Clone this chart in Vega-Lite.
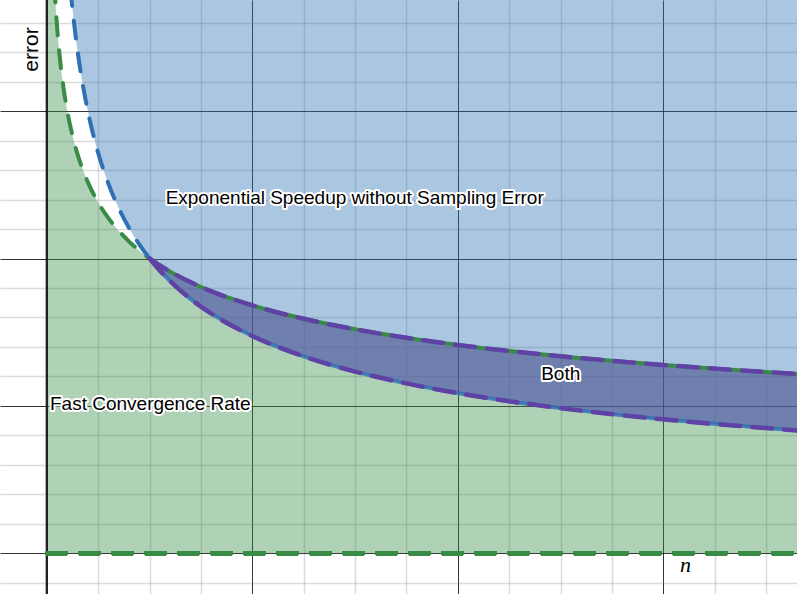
{
  "$schema": "https://vega.github.io/schema/vega-lite/v6.json",
  "width": 797,
  "height": 594,
  "autosize": {"type": "none"},
  "padding": 0,
  "background": "white",
  "config": {"view": {"stroke": null}},
  "datasets": {
    "curves": [
      {"x": 0.001, "green": 9.457, "blue": null},
      {"x": 0.005, "green": 6.325, "blue": null},
      {"x": 0.01, "green": 5.318, "blue": null},
      {"x": 0.02, "green": 4.472, "blue": null},
      {"x": 0.03, "green": 4.041, "blue": null},
      {"x": 0.04, "green": 3.761, "blue": null},
      {"x": 0.05, "green": 3.557, "blue": null},
      {"x": 0.06, "green": 3.398, "blue": null},
      {"x": 0.08, "green": 3.162, "blue": null},
      {"x": 0.1, "green": 2.991, "blue": 4.06},
      {"x": 0.11, "green": 2.92, "blue": 3.893},
      {"x": 0.12, "green": 2.858, "blue": 3.747},
      {"x": 0.13, "green": 2.801, "blue": 3.618},
      {"x": 0.15, "green": 2.702, "blue": 3.397},
      {"x": 0.175, "green": 2.6, "blue": 3.174},
      {"x": 0.2, "green": 2.515, "blue": 2.993},
      {"x": 0.25, "green": 2.378, "blue": 2.713},
      {"x": 0.3, "green": 2.272, "blue": 2.504},
      {"x": 0.35, "green": 2.187, "blue": 2.34},
      {"x": 0.4, "green": 2.115, "blue": 2.206},
      {"x": 0.45, "green": 2.053, "blue": 2.095},
      {"x": 0.5, "green": 2.0, "blue": 2.0},
      {"x": 0.55, "green": 1.953, "blue": 1.918},
      {"x": 0.6, "green": 1.911, "blue": 1.846},
      {"x": 0.7, "green": 1.839, "blue": 1.725},
      {"x": 0.75, "green": 1.807, "blue": 1.673},
      {"x": 1.0, "green": 1.682, "blue": 1.474},
      {"x": 1.25, "green": 1.591, "blue": 1.336},
      {"x": 1.5, "green": 1.52, "blue": 1.233},
      {"x": 1.75, "green": 1.462, "blue": 1.153},
      {"x": 2.0, "green": 1.414, "blue": 1.087},
      {"x": 2.25, "green": 1.373, "blue": 1.032},
      {"x": 2.5, "green": 1.337, "blue": 0.985},
      {"x": 3.0, "green": 1.278, "blue": 0.909},
      {"x": 3.5, "green": 1.23, "blue": 0.85},
      {"x": 3.7, "green": 1.213, "blue": 0.829}
    ],
    "labels": [
      {"label": "Exponential Speedup without Sampling Error", "x": 1.498, "y": 2.41},
      {"label": "Both", "x": 2.501, "y": 1.216},
      {"label": "Fast Convergence Rate", "x": 0.503, "y": 1.012}
    ]
  },
  "encoding": {
    "x": {
      "field": "x",
      "type": "quantitative",
      "scale": {"domain": [-0.2288, 3.6514], "nice": false, "zero": false},
      "axis": {
        "values": [-0.25, 0, 0.25, 0.5, 0.75, 1, 1.25, 1.5, 1.75, 2, 2.25, 2.5, 2.75, 3, 3.25, 3.5, 3.75],
        "tickCount": 200,
        "grid": true, "labels": false, "ticks": false, "domain": false, "title": null,
        "gridColor": {"condition": {"test": "abs(datum.value - round(datum.value)) < 0.001", "value": "#111111"}, "value": "#888888"},
        "gridOpacity": {"condition": {"test": "abs(datum.value - round(datum.value)) < 0.001", "value": 0.85}, "value": 0.3},
        "gridWidth": {"condition": {"test": "abs(datum.value - round(datum.value)) < 0.001", "value": 1}, "value": 1.5}
      }
    }
  },
  "layer": [
    {
      "data": {"name": "curves"},
      "mark": {"type": "area", "color": "#388c46", "opacity": 0.4, "interpolate": "monotone", "clip": true},
      "encoding": {
        "y": {
          "field": "green",
          "type": "quantitative",
          "scale": {"domain": [-0.276, 3.754], "nice": false, "zero": false},
          "axis": {
            "values": [-0.2, 0, 0.2, 0.4, 0.6, 0.8, 1, 1.2, 1.4, 1.6, 1.8, 2, 2.2, 2.4, 2.6, 2.8, 3, 3.2, 3.4, 3.6, 3.8],
            "tickCount": 200,
            "grid": true, "labels": false, "ticks": false, "domain": false, "title": null,
            "gridColor": {"condition": {"test": "abs(datum.value - round(datum.value)) < 0.001", "value": "#111111"}, "value": "#888888"},
            "gridOpacity": {"condition": {"test": "abs(datum.value - round(datum.value)) < 0.001", "value": 0.85}, "value": 0.3},
            "gridWidth": {"condition": {"test": "abs(datum.value - round(datum.value)) < 0.001", "value": 1}, "value": 1.5}
          }
        },
        "y2": {"datum": 0}
      }
    },
    {
      "data": {"name": "curves"},
      "mark": {"type": "rule", "color": "#222222", "strokeWidth": 2},
      "encoding": {"x": {"datum": 0, "type": "quantitative"}}
    },
    {
      "data": {"name": "curves"},
      "mark": {"type": "rule", "color": "#222222", "strokeWidth": 1.5},
      "encoding": {"y": {"datum": 0, "type": "quantitative"}}
    },
    {
      "data": {"name": "curves"},
      "transform": [{"filter": "datum.x >= 0.1"}],
      "mark": {"type": "area", "color": "#2d70b3", "opacity": 0.4, "interpolate": "monotone", "clip": true},
      "encoding": {
        "y": {"field": "blue", "type": "quantitative"},
        "y2": {"datum": 5}
      }
    },
    {
      "data": {"name": "curves"},
      "transform": [{"filter": "datum.x >= 0.5"}],
      "mark": {"type": "area", "color": "#6042a6", "opacity": 0.4, "interpolate": "monotone", "clip": true},
      "encoding": {
        "y": {"field": "blue", "type": "quantitative"},
        "y2": {"field": "green"}
      }
    },
    {
      "data": {"name": "curves"},
      "transform": [{"filter": "datum.x >= 0.5"}],
      "mark": {"type": "line", "color": "#388c46", "strokeWidth": 4, "interpolate": "monotone", "clip": true},
      "encoding": {"y": {"field": "green", "type": "quantitative"}}
    },
    {
      "data": {"name": "curves"},
      "transform": [{"filter": "datum.x >= 0.5"}],
      "mark": {"type": "line", "color": "#2d70b3", "strokeWidth": 4, "opacity": 0.8, "interpolate": "monotone", "clip": true},
      "encoding": {"y": {"field": "blue", "type": "quantitative"}}
    },
    {
      "data": {"name": "curves"},
      "transform": [{"filter": "datum.x <= 0.5"}],
      "mark": {"type": "line", "color": "#388c46", "strokeWidth": 4, "strokeDash": [18, 15], "strokeCap": "round", "interpolate": "monotone", "clip": true},
      "encoding": {"y": {"field": "green", "type": "quantitative"}}
    },
    {
      "data": {"name": "curves"},
      "transform": [{"filter": "datum.x >= 0.1 && datum.x <= 0.5"}],
      "mark": {"type": "line", "color": "#2d70b3", "strokeWidth": 4, "strokeDash": [18, 15], "strokeCap": "round", "interpolate": "monotone", "clip": true},
      "encoding": {"y": {"field": "blue", "type": "quantitative"}}
    },
    {
      "data": {"name": "curves"},
      "mark": {"type": "rule", "color": "#388c46", "strokeWidth": 4, "strokeDash": [19, 14], "strokeCap": "round", "clip": true},
      "encoding": {
        "x": {"datum": 0, "type": "quantitative"},
        "x2": {"datum": 3.8},
        "y": {"datum": 0, "type": "quantitative"}
      }
    },
    {
      "data": {"name": "curves"},
      "transform": [{"filter": "datum.x >= 0.5"}],
      "mark": {"type": "line", "color": "#6042a6", "strokeWidth": 4.5, "strokeDash": [20, 12], "strokeCap": "round", "interpolate": "monotone", "clip": true},
      "encoding": {"y": {"field": "green", "type": "quantitative"}}
    },
    {
      "data": {"name": "curves"},
      "transform": [{"filter": "datum.x >= 0.5"}],
      "mark": {"type": "line", "color": "#6042a6", "strokeWidth": 4.5, "strokeDash": [20, 12], "strokeCap": "round", "interpolate": "monotone", "clip": true},
      "encoding": {"y": {"field": "blue", "type": "quantitative"}}
    },
    {
      "data": {"name": "labels"},
      "mark": {"type": "text", "font": "Liberation Sans", "fontSize": 19, "fill": "white", "stroke": "white", "strokeWidth": 4, "strokeJoin": "round", "align": "center", "baseline": "middle"},
      "encoding": {
        "y": {"field": "y", "type": "quantitative"},
        "text": {"field": "label"}
      }
    },
    {
      "data": {"name": "labels"},
      "mark": {"type": "text", "font": "Liberation Sans", "fontSize": 19, "color": "black", "align": "center", "baseline": "middle"},
      "encoding": {
        "y": {"field": "y", "type": "quantitative"},
        "text": {"field": "label"}
      }
    },
    {
      "data": {"values": [{"label": "error", "x": -0.073, "y": 3.418}]},
      "mark": {"type": "text", "font": "Liberation Sans", "fontSize": 21, "color": "black", "align": "center", "baseline": "middle", "angle": 270},
      "encoding": {
        "y": {"field": "y", "type": "quantitative"},
        "text": {"field": "label"}
      }
    },
    {
      "data": {"values": [{"label": "n", "x": 3.109, "y": -0.082}]},
      "mark": {"type": "text", "font": "Liberation Serif", "fontStyle": "italic", "fontSize": 22, "color": "black", "align": "center", "baseline": "middle"},
      "encoding": {
        "y": {"field": "y", "type": "quantitative"},
        "text": {"field": "label"}
      }
    }
  ]
}
